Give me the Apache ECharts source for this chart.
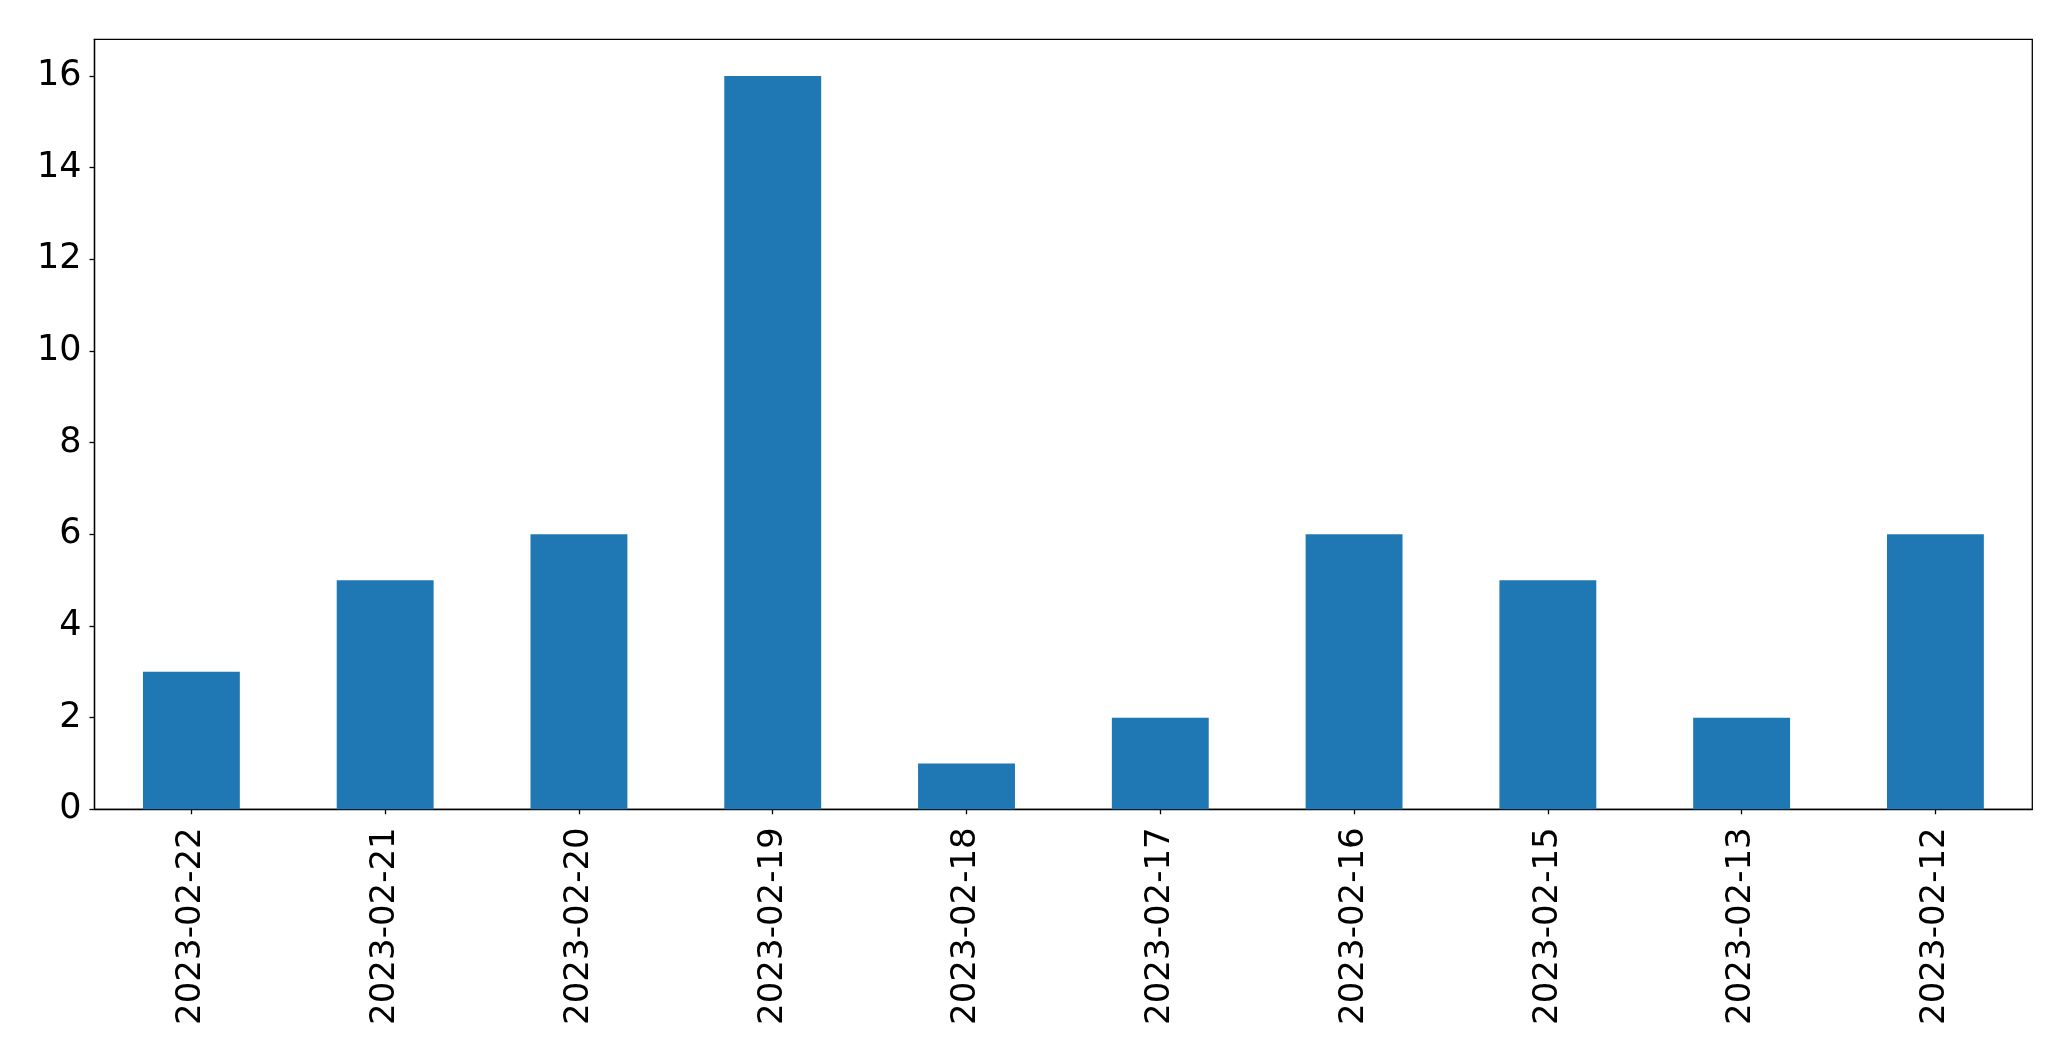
<!DOCTYPE html>
<html>
<head>
<meta charset="utf-8">
<style>html,body{margin:0;padding:0;background:#fff;}#chart{width:2071px;height:1061px;}</style>
<script src="https://cdn.jsdelivr.net/npm/echarts@6/dist/echarts.min.js"></script>
</head>
<body>
<div id="chart"></div>
<script>
const categories = ["2023-02-22","2023-02-21","2023-02-20","2023-02-19","2023-02-18","2023-02-17","2023-02-16","2023-02-15","2023-02-13","2023-02-12"];
const values = [3,5,6,16,1,2,6,5,2,6];
const yTicks = [0,2,4,6,8,10,12,14,16];

const chart = echarts.init(document.getElementById('chart'), null, {renderer:'canvas'});
const font = 'DejaVu Sans';
chart.setOption({
  animation: false,
  grid: {left: 94.5, right: 38.7, top: 39.3, bottom: 251.7, show: true, borderColor: '#000', borderWidth: 1.3, backgroundColor: 'transparent'},
  xAxis: {
    type: 'category',
    data: categories,
    axisLine: {show: true, lineStyle: {color: '#000', width: 1.3}},
    axisTick: {show: true, alignWithLabel: true, length: 5, lineStyle: {color: '#000', width: 1.3}},
    axisLabel: {rotate: 90, color: '#000', fontFamily: font, fontSize: 34, margin: 18, interval: 0},
    splitLine: {show: false}
  },
  yAxis: {
    type: 'value',
    min: 0, max: 16.8, interval: 2,
    axisLine: {show: true, lineStyle: {color: '#000', width: 1.3}},
    axisTick: {show: true, length: 5, lineStyle: {color: '#000', width: 1.3}, customValues: yTicks},
    axisLabel: {color: '#000', fontFamily: font, fontSize: 35, margin: 13, customValues: yTicks},
    splitLine: {show: false}
  },
  series: [{
    type: 'bar',
    data: values,
    barWidth: '50%',
    itemStyle: {color: '#1f77b4'}
  }]
});
</script>
</body>
</html>
